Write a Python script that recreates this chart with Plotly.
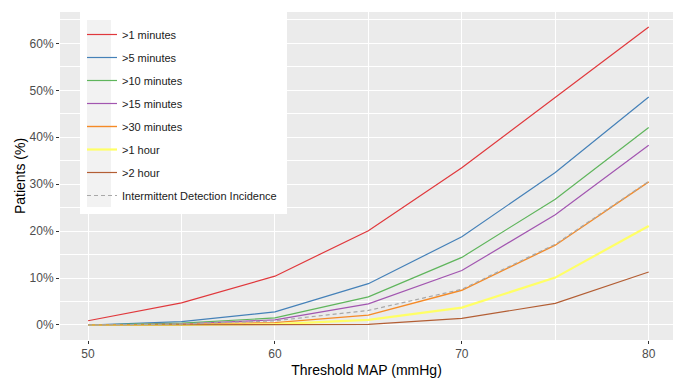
import plotly.graph_objects as go

x_map = [50, 55, 60, 65, 70, 75, 80]
series_names = [">1 minutes", ">5 minutes", ">10 minutes", ">15 minutes",
                ">30 minutes", ">1 hour", ">2 hour"]
v_1min = [0.9, 4.7, 10.4, 20.1, 33.5, 48.5, 63.5]
v_5min = [0.0, 0.7, 2.8, 8.8, 18.8, 32.5, 48.6]
v_10min = [0.0, 0.4, 1.5, 6.0, 14.4, 26.8, 42.1]
v_15min = [0.0, 0.2, 1.1, 4.5, 11.6, 23.5, 38.3]
v_30min = [0.0, 0.1, 0.5, 2.1, 7.4, 17.0, 30.5]
v_1hour = [0.0, 0.0, 0.2, 1.1, 3.7, 10.1, 21.1]
v_2hour = [0.0, 0.0, 0.0, 0.15, 1.4, 4.6, 11.3]
v_idi = [0.0, 0.2, 0.9, 3.1, 7.6, 17.2, 30.6]
idi_name = "Intermittent Detection Incidence"
y_ticks = [0, 10, 20, 30, 40, 50, 60]
y_ticktext = ["0%", "10%", "20%", "30%", "40%", "50%", "60%"]
x_ticks = [50, 60, 70, 80]

series_values = [v_1min, v_5min, v_10min, v_15min, v_30min, v_1hour, v_2hour]
colors = ["#e0383c", "#4581b8", "#5fb55c", "#a256b0", "#f58a26", "#ffff66", "#b35e34"]
widths = [1.2, 1.2, 1.2, 1.2, 1.4, 2.2, 1.2]

fig = go.Figure()
for i, (name, vals) in enumerate(zip(series_names, series_values)):
    fig.add_trace(go.Scatter(x=x_map, y=vals, mode="lines", name=name,
                             line=dict(color=colors[i], width=widths[i]),
                             legendgroup=name, legendrank=i + 1))
fig.add_trace(go.Scatter(x=x_map, y=v_idi, mode="lines", name=idi_name,
                         line=dict(color="#a8a8a8", width=1.2, dash="4px,3px"),
                         legendgroup=idi_name, legendrank=8))

L, T, W, H = 60, 12, 613, 328


def px(x):
    return (x - L) / W


def py(y):
    return (T + H - y) / H


fig.add_shape(type="rect", xref="paper", yref="paper", layer="above",
              x0=px(80), x1=px(287), y0=py(214), y1=py(10),
              fillcolor="white", line=dict(width=0))
fig.add_shape(type="rect", xref="paper", yref="paper", layer="above",
              x0=px(87), x1=px(111), y0=py(207), y1=py(20),
              fillcolor="#f2f2f2", line=dict(width=0))

fig.update_layout(
    width=673, height=378,
    margin=dict(l=L, r=0, t=T, b=378 - T - H),
    plot_bgcolor="#ebebeb", paper_bgcolor="white",
    font=dict(family="Liberation Sans, Arial, sans-serif", color="#000000"),
    showlegend=True,
    legend=dict(x=px(82), y=py(20), xanchor="left", yanchor="top",
                bgcolor="rgba(0,0,0,0)", font=dict(size=11, color="#1a1a1a"),
                tracegroupgap=4, traceorder="grouped"),
    xaxis=dict(range=[48.5, 81.3], tickvals=x_ticks,
               showgrid=True, gridcolor="white", gridwidth=1.1,
               zeroline=False, ticks="outside", ticklen=3, tickcolor="#333333",
               tickfont=dict(size=12, color="#4d4d4d"),
               minor=dict(tickvals=[55, 65, 75], showgrid=True,
                          gridcolor="white", gridwidth=0.5, ticks=""),
               title=dict(text="Threshold MAP (mmHg)", font=dict(size=14),
                          standoff=5),
               automargin=False, showline=False),
    yaxis=dict(range=[-3.2, 66.7], tickvals=y_ticks, ticktext=y_ticktext,
               showgrid=True, gridcolor="white", gridwidth=1.1,
               zeroline=False, ticks="outside", ticklen=3, tickcolor="#333333",
               tickfont=dict(size=12, color="#4d4d4d"),
               minor=dict(tickvals=[5, 15, 25, 35, 45, 55, 65], showgrid=True,
                          gridcolor="white", gridwidth=0.5, ticks=""),
               title=dict(text="Patients (%)", font=dict(size=14), standoff=0),
               automargin=False, showline=False),
)

fig.write_html("out.html")
